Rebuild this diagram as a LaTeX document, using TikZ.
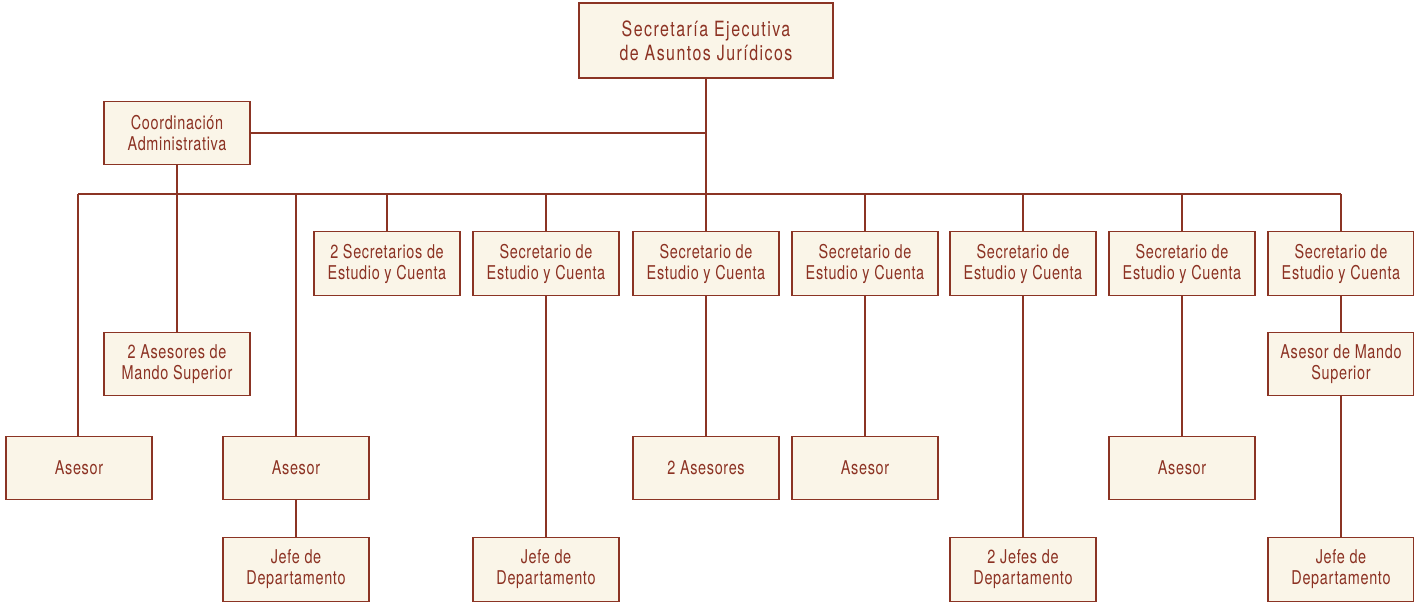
\documentclass[tikz,border=0pt]{standalone}
\usepackage{fontspec}
\setmainfont{TeX Gyre Heros}[FakeStretch=0.76, LetterSpace=3.5]
\newfontfamily\topfont{TeX Gyre Heros}[FakeStretch=0.76, LetterSpace=7]
\definecolor{linec}{RGB}{139,52,36}
\definecolor{textc}{RGB}{140,50,35}
\definecolor{fillc}{RGB}{250,245,232}
\tikzset{
  box/.style={draw=linec, fill=fillc, line width=1.4pt, text=textc, align=center,
    minimum width=146pt, minimum height=63.5pt, inner sep=0pt,
    font=\fontsize{19}{21}\selectfont},
  topbox/.style={box, minimum width=254pt, minimum height=75pt,
    font=\topfont\fontsize{21}{24}\selectfont},
  conn/.style={draw=linec, line width=1.4pt}
}
\begin{document}
\begin{tikzpicture}[x=1pt,y=-1pt]
\useasboundingbox (0,0) rectangle (1414,604);
% nodes
\node[topbox] (top) at (706,40.5) {Secretaría Ejecutiva\\de Asuntos Jurídicos};
\node[box] (coord) at (177,133) {Coordinación\\Administrativa};
% row 1
\node[box] (s4) at (387,263.5) {2 Secretarios de\\Estudio y Cuenta};
\node[box] (s5) at (546,263.5) {Secretario de\\Estudio y Cuenta};
\node[box] (s6) at (706,263.5) {Secretario de\\Estudio y Cuenta};
\node[box] (s7) at (865,263.5) {Secretario de\\Estudio y Cuenta};
\node[box] (s8) at (1023,263.5) {Secretario de\\Estudio y Cuenta};
\node[box] (s9) at (1182,263.5) {Secretario de\\Estudio y Cuenta};
\node[box] (s10) at (1341,263.5) {Secretario de\\Estudio y Cuenta};
% row 2
\node[box] (am2) at (177,364) {2 Asesores de\\Mando Superior};
\node[box] (am10) at (1341,364) {Asesor de Mando\\Superior};
% row 3
\node[box] (a1) at (79,468) {Asesor};
\node[box] (a3) at (296,468) {Asesor};
\node[box] (a6) at (706,468) {2 Asesores};
\node[box] (a7) at (865,468) {Asesor};
\node[box] (a9) at (1182,468) {Asesor};
% row 4
\node[box] (j3) at (296,569.5) {Jefe de\\Departamento};
\node[box] (j5) at (546,569.5) {Jefe de\\Departamento};
\node[box] (j8) at (1023,569.5) {2 Jefes de\\Departamento};
\node[box] (j10) at (1341,569.5) {Jefe de\\Departamento};
% bus
\coordinate (busL) at (78,194);
\coordinate (busR) at (1341,194);
\draw[conn] (busL) -- (busR);
\draw[conn] (top.south) -- (top.south |- busL);
\draw[conn] (coord.east) -- (coord.east -| top.south);
\draw[conn] (coord.south) -- (am2.north);
\draw[conn] (a1.north -| busL) -- (busL);
\draw[conn] (a3.north) -- (a3.north |- busL);
\foreach \n in {s4,s5,s6,s7,s8,s9,s10}{
  \draw[conn] (\n.north) -- (\n.north |- busL);
}
\draw[conn] (s5.south) -- (j5.north);
\draw[conn] (s6.south) -- (a6.north);
\draw[conn] (s7.south) -- (a7.north);
\draw[conn] (s8.south) -- (j8.north);
\draw[conn] (s9.south) -- (a9.north);
\draw[conn] (s10.south) -- (am10.north);
\draw[conn] (am10.south) -- (j10.north);
\draw[conn] (a3.south) -- (j3.north);
\end{tikzpicture}
\end{document}
